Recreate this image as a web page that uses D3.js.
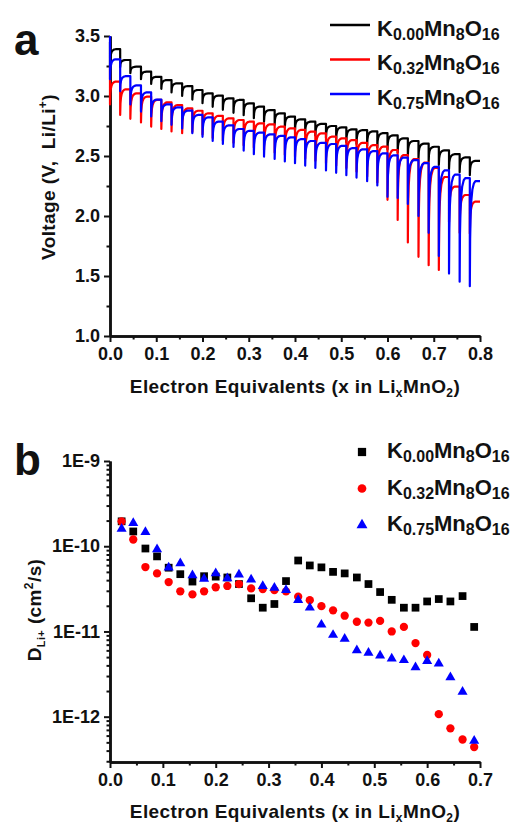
<!DOCTYPE html>
<html>
<head>
<meta charset="utf-8">
<script src="https://cdn.jsdelivr.net/npm/d3@7"></script>
<style>
  body { margin: 0; background: #fff; }
  svg text { font-family: "Liberation Sans", Arial, sans-serif; font-weight: bold; fill: #111; }
</style>
</head>
<body>
<svg id="chart" width="514" height="827"></svg>
<script>
// ---------- shared ----------
const compositions = ["0.00", "0.32", "0.75"];
const seriesColors = ["#000000", "#ff0000", "#0000ff"];

// ---------- panel a: GITT discharge ----------
// x at which each current pulse starts
const pulseX = [0, 0.022, 0.044, 0.067, 0.089, 0.111, 0.133, 0.156, 0.178, 0.2,
  0.222, 0.244, 0.267, 0.289, 0.311, 0.333, 0.356, 0.378, 0.4, 0.422,
  0.444, 0.467, 0.489, 0.511, 0.533, 0.556, 0.578, 0.6, 0.622, 0.644,
  0.667, 0.689, 0.711, 0.733, 0.756, 0.778];
const gittEndX = 0.8;
const openCircuitV = [3.45, 3.25, 3.5];

// settled voltage reached after each pulse
const plateauK000 = [3.39, 3.30, 3.244, 3.203, 3.16, 3.133, 3.106, 3.083, 3.05, 3.022,
  3.003, 2.98, 2.967, 2.939, 2.911, 2.883, 2.856, 2.828, 2.806, 2.786,
  2.767, 2.75, 2.739, 2.722, 2.715, 2.705, 2.69, 2.672, 2.647, 2.625,
  2.603, 2.577, 2.547, 2.515, 2.488, 2.46];
const plateauK032 = [3.12, 3.056, 3.022, 2.994, 2.967, 2.947, 2.925, 2.897, 2.877, 2.856,
  2.835, 2.814, 2.8, 2.786, 2.772, 2.764, 2.744, 2.731, 2.717, 2.703,
  2.689, 2.661, 2.647, 2.633, 2.61, 2.59, 2.578, 2.55, 2.508, 2.475,
  2.444, 2.40, 2.325, 2.245, 2.175, 2.12];
const plateauK075 = [3.306, 3.165, 3.088, 3.03, 2.97, 2.93, 2.905, 2.878, 2.842, 2.822,
  2.786, 2.755, 2.725, 2.71, 2.695, 2.68, 2.667, 2.655, 2.64, 2.625,
  2.61, 2.6, 2.585, 2.565, 2.555, 2.54, 2.522, 2.505, 2.487, 2.465,
  2.44, 2.41, 2.38, 2.345, 2.315, 2.29];

// lowest voltage reached at each pulse
const dipK000 = [3.25, 3.24, 3.19, 3.14, 3.10, 3.06, 3.03, 3.0, 2.97, 2.94,
  2.91, 2.885, 2.86, 2.84, 2.815, 2.785, 2.76, 2.735, 2.71, 2.69,
  2.67, 2.65, 2.63, 2.615, 2.60, 2.585, 2.57, 2.555, 2.53, 2.505,
  2.48, 2.455, 2.425, 2.39, 2.365, 2.34];
const dipK032 = [2.93, 2.842, 2.81, 2.78, 2.745, 2.725, 2.705, 2.69, 2.70, 2.68,
  2.65, 2.63, 2.61, 2.59, 2.57, 2.55, 2.53, 2.51, 2.495, 2.48,
  2.46, 2.44, 2.42, 2.40, 2.37, 2.33, 2.28, 2.135, 1.967, 1.78,
  1.66, 1.59, 1.55, 1.95, 1.86, 1.855];
const dipK075 = [3.14, 3.04, 2.93, 2.87, 2.83, 2.79, 2.76, 2.73, 2.69, 2.66,
  2.625, 2.60, 2.575, 2.545, 2.515, 2.495, 2.475, 2.455, 2.44, 2.42,
  2.40, 2.38, 2.36, 2.34, 2.32, 2.29, 2.255, 2.16, 2.15, 2.10,
  2.00, 1.86, 1.667, 1.52, 1.453, 1.415];

// recovery shape within one titration step (fraction of step, fraction of recovery)
const relaxStep = [0, 0.03, 0.08, 0.15, 0.25, 0.4, 0.55];
const relaxLevel = [0, 0.45, 0.68, 0.82, 0.92, 0.98, 1];

const xTicksA = [0, 0.1, 0.2, 0.3, 0.4, 0.5, 0.6, 0.7, 0.8];
const yTicksA = [1.0, 1.5, 2.0, 2.5, 3.0, 3.5];

// ---------- panel b: Li+ diffusion coefficient ----------
const diffusionX = [0.022, 0.044, 0.067, 0.089, 0.111, 0.133, 0.156, 0.178, 0.2, 0.222,
  0.244, 0.267, 0.289, 0.311, 0.333, 0.356, 0.378, 0.4, 0.422, 0.444,
  0.467, 0.489, 0.511, 0.533, 0.556, 0.578, 0.6, 0.622, 0.644, 0.667, 0.689];
const diffK000 = [1.96e-10, 1.49e-10, 9.4e-11, 7.6e-11, 5.6e-11, 4.7e-11, 3.85e-11, 4.45e-11, 4.4e-11, 4.3e-11,
  3.6e-11, 2.45e-11, 1.9e-11, 2.1e-11, 3.9e-11, 6.8e-11, 5.95e-11, 5.65e-11, 5.0e-11, 4.8e-11,
  4.3e-11, 3.6e-11, 2.9e-11, 2.35e-11, 1.9e-11, 1.9e-11, 2.25e-11, 2.4e-11, 2.25e-11, 2.6e-11, 1.13e-11];
const diffK032 = [1.96e-10, 1.2e-10, 5.7e-11, 4.8e-11, 3.8e-11, 2.96e-11, 2.72e-11, 2.96e-11, 3.3e-11, 3.42e-11,
  3.6e-11, 3.2e-11, 3.15e-11, 3.05e-11, 2.95e-11, 2.56e-11, 2.33e-11, 1.98e-11, 1.77e-11, 1.53e-11,
  1.3e-11, 1.27e-11, 1.33e-11, 1.0e-11, 1.13e-11, 7.3e-12, 5.3e-12, 1.07e-12, 7.3e-13, 5.4e-13, 4.4e-13];
const diffK075 = [1.6e-10, 1.87e-10, 1.47e-10, 9.2e-11, 5.6e-11, 6.3e-11, 4.56e-11, 4.15e-11, 4.8e-11, 4.2e-11,
  4.65e-11, 4.05e-11, 3.4e-11, 3.25e-11, 3.05e-11, 2.33e-11, 1.9e-11, 1.2e-11, 9.1e-12, 8.2e-12,
  6.0e-12, 5.6e-12, 5.2e-12, 4.8e-12, 4.6e-12, 3.8e-12, 4.5e-12, 4.2e-12, 2.9e-12, 1.96e-12, 5.2e-13];

const xTicksB = [0, 0.1, 0.2, 0.3, 0.4, 0.5, 0.6, 0.7];
const yTicksB = [1e-12, 1e-11, 1e-10, 1e-9];
const yTickLabelsB = ["1E-12", "1E-11", "1E-10", "1E-9"];

// ---------- drawing ----------
const svg = d3.select("#chart");
svg.append("rect").attr("width", 514).attr("height", 827).attr("fill", "#fff");

const xA = d3.scaleLinear().domain([0, 0.8]).range([110, 480]);
const yA = d3.scaleLinear().domain([1.0, 3.5]).range([336, 36]);
const xB = d3.scaleLinear().domain([0, 0.7]).range([110, 480]);
const yB = d3.scaleLog().domain([2.94e-13, 1e-9]).range([762, 461]);

function styleAxis(g, fontSize) {
  g.select(".domain").attr("stroke", "#111").attr("stroke-width", 2.5);
  g.selectAll(".tick line").attr("stroke", "#111").attr("stroke-width", 2);
  g.selectAll(".tick text").attr("font-size", fontSize).attr("fill", "#111")
    .style("font-family", "'Liberation Sans', Arial, sans-serif").style("font-weight", "bold");
}

function drawAxes(xs, ys, xMajor, xMinor, yMajor, yMinor, yFormat, baseY, leftX) {
  const gxMinor = svg.append("g").attr("transform", `translate(0,${baseY})`)
    .call(d3.axisBottom(xs).tickValues(xMinor).tickSize(3.5).tickFormat("").tickSizeOuter(0));
  styleAxis(gxMinor, 18);
  const gx = svg.append("g").attr("transform", `translate(0,${baseY})`)
    .call(d3.axisBottom(xs).tickValues(xMajor).tickSize(6).tickPadding(5)
      .tickFormat(d3.format(".1f")).tickSizeOuter(0));
  styleAxis(gx, 18);
  const gyMinor = svg.append("g").attr("transform", `translate(${leftX},0)`)
    .call(d3.axisLeft(ys).tickValues(yMinor).tickSize(3.5).tickFormat("").tickSizeOuter(0));
  styleAxis(gyMinor, 18);
  const gy = svg.append("g").attr("transform", `translate(${leftX},0)`)
    .call(d3.axisLeft(ys).tickValues(yMajor).tickSize(6).tickPadding(4)
      .tickFormat(yFormat).tickSizeOuter(0));
  styleAxis(gy, 18);
}

// panel a axes
const xMinorA = d3.range(0.05, 0.8, 0.1);
const yMinorA = d3.range(1.25, 3.5, 0.5);
drawAxes(xA, yA, xTicksA, xMinorA, yTicksA, yMinorA, d3.format(".1f"), 336, 110);

// panel b axes
const xMinorB = d3.range(0.05, 0.7, 0.1);
const yMinorB = [];
[-13, -12, -11, -10].forEach(e => {
  for (let m = 2; m <= 9; m++) {
    const v = m * Math.pow(10, e);
    if (v > 2.94e-13 && v < 1e-9) yMinorB.push(v);
  }
});
drawAxes(xB, yB, xTicksB, xMinorB, yTicksB, yMinorB,
  d => yTickLabelsB[yTicksB.indexOf(d)], 762, 110);

// panel a curves
function gittPoints(ocv, dips, plateaus) {
  const pts = [[0, ocv]];
  pulseX.forEach((x0, k) => {
    const x1 = k + 1 < pulseX.length ? pulseX[k + 1] : gittEndX;
    const w = x1 - x0;
    relaxStep.forEach((t, j) => {
      pts.push([x0 + t * w, dips[k] + relaxLevel[j] * (plateaus[k] - dips[k])]);
    });
    pts.push([x1, plateaus[k]]);
  });
  return pts;
}
const gittSeries = [
  gittPoints(openCircuitV[0], dipK000, plateauK000),
  gittPoints(openCircuitV[1], dipK032, plateauK032),
  gittPoints(openCircuitV[2], dipK075, plateauK075)
];
const lineA = d3.line().x(d => xA(d[0])).y(d => yA(d[1]));
gittSeries.forEach((pts, i) => {
  svg.append("path").attr("d", lineA(pts)).attr("fill", "none")
    .attr("stroke", seriesColors[i]).attr("stroke-width", 2.2)
    .attr("stroke-linejoin", "round");
});

// panel b markers
const diffSeries = [diffK000, diffK032, diffK075];
const symbols = [d3.symbol(d3.symbolSquare, 60), d3.symbol(d3.symbolCircle, 54), d3.symbol(d3.symbolTriangle, 44)];
diffSeries.forEach((vals, i) => {
  svg.append("g").selectAll("path").data(vals).join("path")
    .attr("transform", (d, j) => `translate(${xB(diffusionX[j])},${yB(d)})`)
    .attr("d", symbols[i]())
    .attr("fill", seriesColors[i]);
});

// chemical formula label with subscripts
function formula(textSel, comp) {
  textSel.append("tspan").text("K");
  textSel.append("tspan").attr("font-size", 16).attr("dy", 4).text(comp);
  textSel.append("tspan").attr("dy", -4).text("Mn");
  textSel.append("tspan").attr("font-size", 16).attr("dy", 4).text("8");
  textSel.append("tspan").attr("dy", -4).text("O");
  textSel.append("tspan").attr("font-size", 16).attr("dy", 4).text("16");
}

// legend a
compositions.forEach((c, i) => {
  const ly = 25 + i * 34.5;
  svg.append("line").attr("x1", 330).attr("x2", 370).attr("y1", ly).attr("y2", ly)
    .attr("stroke", seriesColors[i]).attr("stroke-width", 2.5);
  const t = svg.append("text").attr("x", 377).attr("y", ly + 10.5).attr("font-size", 22);
  formula(t, c);
});

// legend b
compositions.forEach((c, i) => {
  const ly = 452 + i * 36.5;
  svg.append("path").attr("transform", `translate(362,${ly})`)
    .attr("d", [d3.symbol(d3.symbolSquare, 68), d3.symbol(d3.symbolCircle, 60), d3.symbol(d3.symbolTriangle, 52)][i]())
    .attr("fill", seriesColors[i]);
  const t = svg.append("text").attr("x", 387).attr("y", ly + 6).attr("font-size", 22);
  formula(t, c);
});

// axis titles
function xTitle(y) {
  const t = svg.append("text").attr("x", 295).attr("y", y).attr("text-anchor", "middle")
    .attr("font-size", 19).style("letter-spacing", "0.4px");
  t.append("tspan").text("Electron Equivalents (x in Li");
  t.append("tspan").attr("font-size", 12).attr("dy", 4).text("x");
  t.append("tspan").attr("dy", -4).text("MnO");
  t.append("tspan").attr("font-size", 12).attr("dy", 4).text("2");
  t.append("tspan").attr("dy", -4).text(")");
}
xTitle(393);
xTitle(818);

const ytA = svg.append("text").attr("transform", "translate(55,177) rotate(-90)")
  .attr("text-anchor", "middle").attr("font-size", 19)
  .style("letter-spacing", "0.4px").style("white-space", "pre");
ytA.append("tspan").text("Voltage (V,  Li/Li");
ytA.append("tspan").attr("font-size", 12).attr("dy", -8).text("+");
ytA.append("tspan").attr("dy", 8).text(")");

const ytB = svg.append("text").attr("transform", "translate(41,610) rotate(-90)")
  .attr("text-anchor", "middle").attr("font-size", 19)
  .style("letter-spacing", "0.4px").style("white-space", "pre");
ytB.append("tspan").text("D");
ytB.append("tspan").attr("font-size", 11).attr("dy", 4).text("Li+");
ytB.append("tspan").attr("dy", -4).text(" (cm");
ytB.append("tspan").attr("font-size", 12).attr("dy", -8).text("2");
ytB.append("tspan").attr("dy", 8).text("/s)");

// panel letters
svg.append("text").attr("x", 14).attr("y", 55).attr("font-size", 44).text("a");
svg.append("text").attr("x", 14).attr("y", 475).attr("font-size", 44).text("b");
</script>
</body>
</html>
